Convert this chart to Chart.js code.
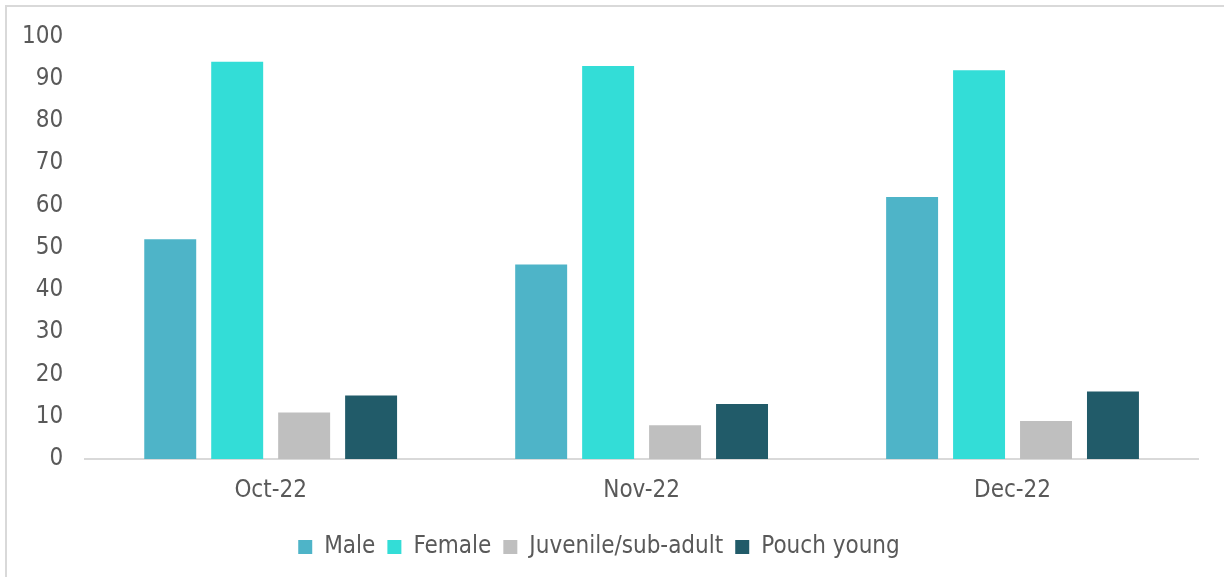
<!DOCTYPE html>
<html>
<head>
<meta charset="utf-8">
<script src="https://cdn.jsdelivr.net/npm/chart.js@4/dist/chart.umd.min.js"></script>
<style>
  html, body { margin: 0; padding: 0; background: #fff; overflow: hidden; }
  #wrap { position: relative; width: 1224px; height: 577px; overflow: hidden; }
  #frame { position: absolute; left: 5px; top: 5px; width: 1300px; height: 700px; border: 2px solid #d9d9d9; box-sizing: border-box; }
  #chart { position: absolute; left: 0; top: 0; }
</style>
</head>
<body>
<div id="wrap">
  <div id="frame"></div>
  <canvas id="chart" width="1224" height="577"></canvas>
</div>
<script>
const months = ['Oct-22', 'Nov-22', 'Dec-22'];
const male = [52, 46, 62];
const female = [94, 93, 92];
const juvenile = [11, 8, 9];
const pouchYoung = [15, 13, 16];

const FONT = "'DejaVu Sans Condensed', 'DejaVu Sans', sans-serif";
const TEXT = '#595959';

function series(label, data, color) {
    return {
        label: label,
        data: data,
        backgroundColor: color,
        borderWidth: 0,
        categoryPercentage: 0.722,
        barPercentage: 0.776
    };
}

const ctx = document.getElementById('chart').getContext('2d');
new Chart(ctx, {
    type: 'bar',
    data: {
        labels: months,
        datasets: [
            series('Male', male, '#4eb4c8'),
            series('Female', female, '#33ddd7'),
            series('Juvenile/sub-adult', juvenile, '#bfbfbf'),
            series('Pouch young', pouchYoung, '#215b69')
        ]
    },
    options: {
        responsive: false,
        animation: false,
        layout: { padding: { top: 35, left: 0, right: 26, bottom: 8 } },
        plugins: {
            tooltip: { enabled: false },
            legend: {
                position: 'bottom',
                labels: {
                    color: TEXT,
                    font: { family: FONT, size: 24 },
                    boxWidth: 14,
                    boxHeight: 14,
                    padding: 12
                }
            }
        },
        scales: {
            x: {
                grid: { display: false, drawTicks: false },
                border: { display: true, color: '#d9d9d9', width: 2 },
                ticks: { color: TEXT, font: { family: FONT, size: 24 }, padding: 17.6 }
            },
            y: {
                min: 0,
                max: 100,
                grid: { display: false, drawTicks: false },
                border: { display: false },
                ticks: { stepSize: 10, color: TEXT, font: { family: FONT, size: 24 }, padding: 22 }
            }
        }
    }
});
</script>
</body>
</html>
